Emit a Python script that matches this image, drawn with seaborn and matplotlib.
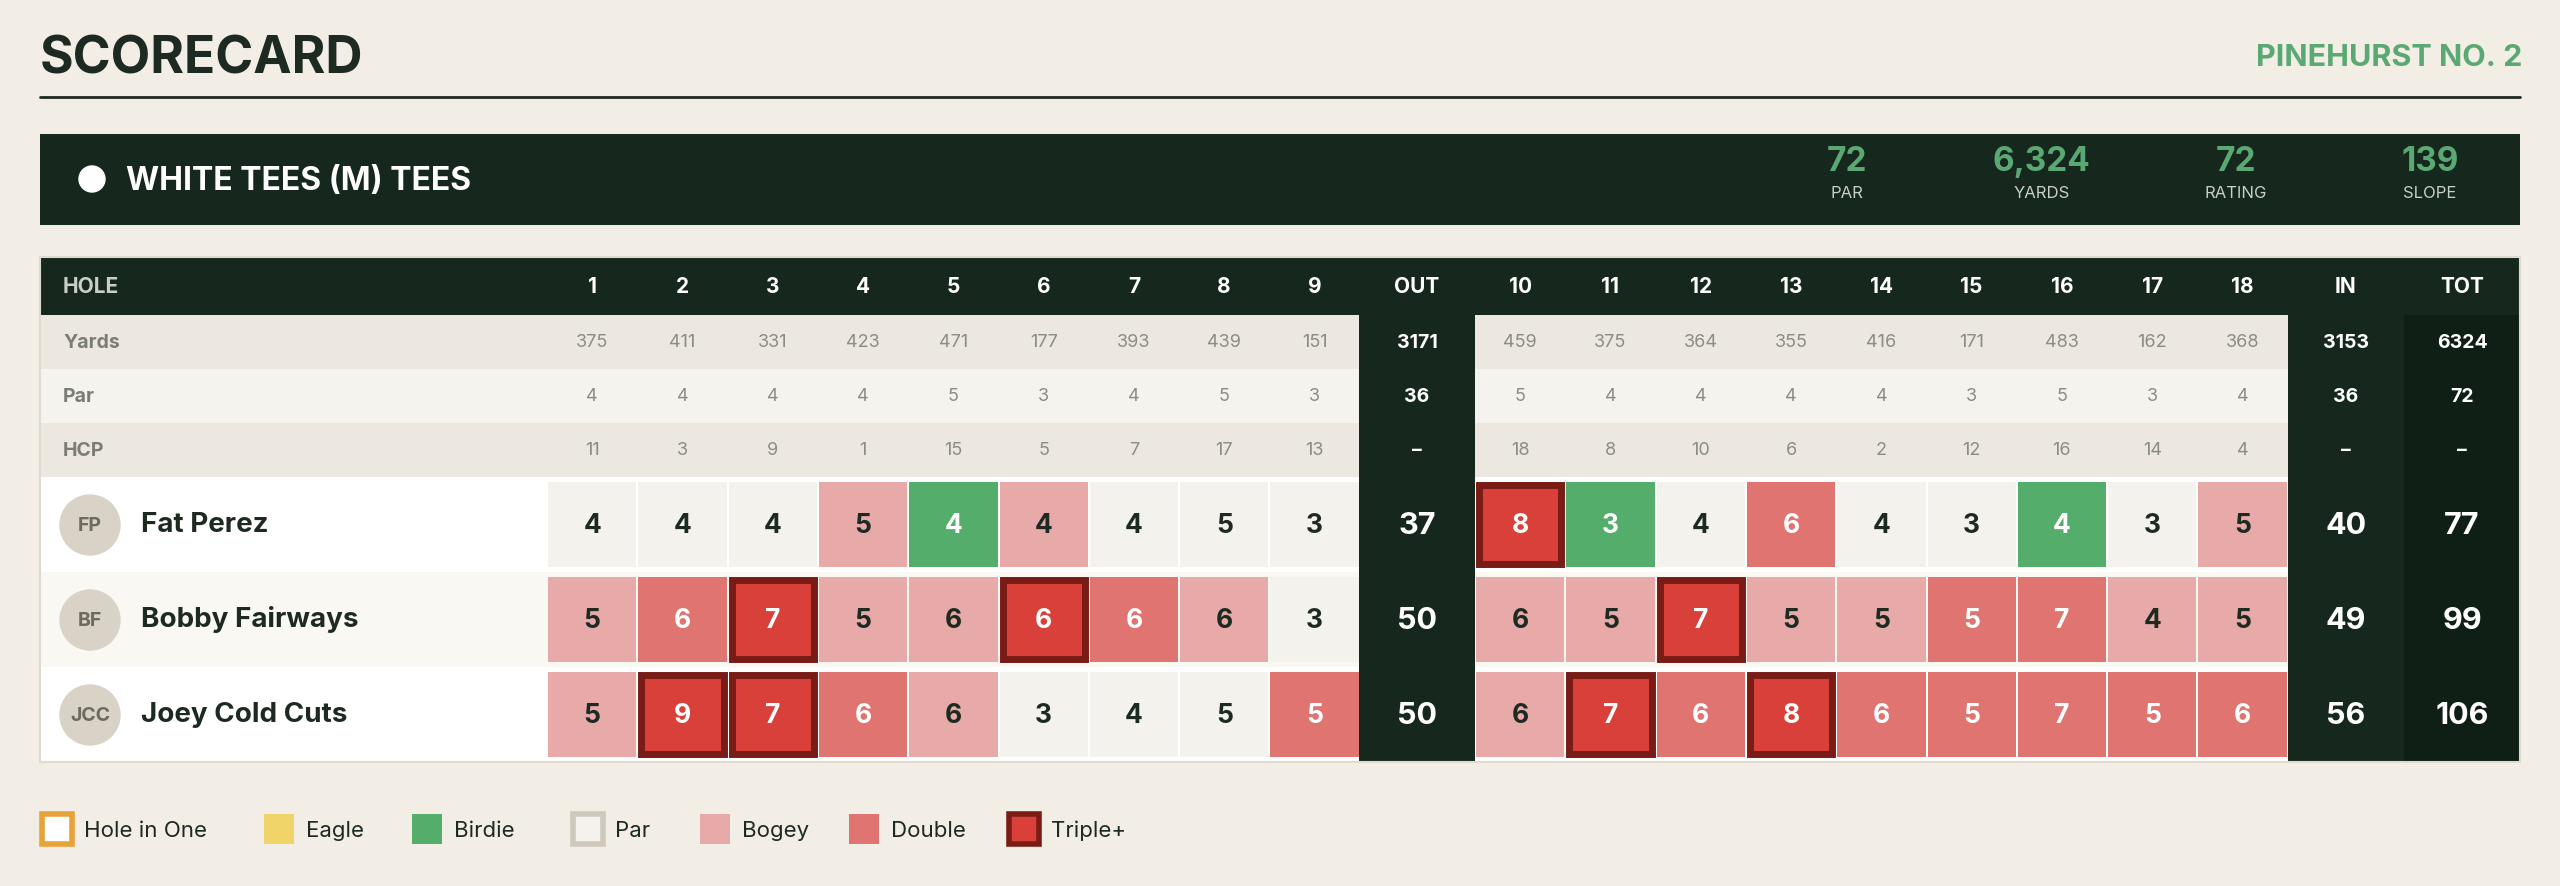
import matplotlib
matplotlib.use("Agg")
import matplotlib.pyplot as plt
from matplotlib.patches import Rectangle, Circle
import seaborn as sns

sns.set_theme(style="white")
plt.rcParams['font.family'] = ['Inter', 'DejaVu Sans']

holes = list(range(1, 19))
yards = [375, 411, 331, 423, 471, 177, 393, 439, 151, 459, 375, 364, 355, 416, 171, 483, 162, 368]
pars = [4, 4, 4, 4, 5, 3, 4, 5, 3, 5, 4, 4, 4, 4, 3, 5, 3, 4]
hcp = [11, 3, 9, 1, 15, 5, 7, 17, 13, 18, 8, 10, 6, 2, 12, 16, 14, 4]
players = ["Fat Perez", "Bobby Fairways", "Joey Cold Cuts"]
initials = ["FP", "BF", "JCC"]
scores = [
    [4, 4, 4, 5, 4, 4, 4, 5, 3, 8, 3, 4, 6, 4, 3, 4, 3, 5],
    [5, 6, 7, 5, 6, 6, 6, 6, 3, 6, 5, 7, 5, 5, 5, 7, 4, 5],
    [5, 9, 7, 6, 6, 3, 4, 5, 5, 6, 7, 6, 8, 6, 5, 7, 5, 6],
]
stat_values = ["72", "6,324", "72", "139"]
stat_labels = ["PAR", "YARDS", "RATING", "SLOPE"]
legend_labels = ["Hole in One", "Eagle", "Birdie", "Par", "Bogey", "Double", "Triple+"]

BG = "#f2ede5"; DARK = "#16281e"; DARKER = "#0f1f16"; GREEN = "#5aa872"
C = {"ace": "#ffffff", "eagle": "#f0d46a", "birdie": "#55ad6b", "par": "#f4f2ec",
     "bogey": "#e8aaa8", "double": "#e07471", "triple": "#d9403a"}

fig = plt.figure(figsize=(25.6, 8.87), dpi=100, facecolor=BG)
ax = fig.add_axes([0, 0, 1, 1])
ax.set_xlim(0, 2560); ax.set_ylim(887, 0); ax.axis("off")

def R(x, y, w, h, fc, ec="none", lw=0, z=1):
    ax.add_patch(Rectangle((x, y), w, h, facecolor=fc, edgecolor=ec, linewidth=lw, zorder=z))

def T(x, y, s, **kw):
    kw.setdefault("va", "center"); kw.setdefault("ha", "center")
    ax.text(x, y, s, **kw)

T(40, 60, "SCORECARD", ha="left", fontsize=37, fontweight="bold", color="#1d2a22")
T(2522, 58, "PINEHURST NO. 2", ha="right", fontsize=22, fontweight="bold", color=GREEN)
ax.plot([40, 2520], [98, 98], color="#1d2a22", lw=2)

R(40, 135, 2480, 91, DARK)
ax.add_patch(Circle((92, 180), 13, color="white", zorder=2))
T(126, 181, "WHITE TEES (M) TEES", ha="left", fontsize=23, fontweight="bold", color="white")
for i, (v, l) in enumerate(zip(stat_values, stat_labels)):
    x = 1847 + i * 194.3
    T(x, 162, v, fontsize=24, fontweight="bold", color=GREEN)
    T(x, 194, l, fontsize=12, color="#c8cfc9")

# columns
def colx(i):  # i: 0..17 hole index
    return 547 + i * 90.3 if i < 9 else 1475 + (i - 9) * 90.3
CW = 90.3
OUTX, INX, TOTX = 1359, 2288, 2404
SW = 116

top, hh = 258, 58
R(40, top, 2480, hh, DARK)
T(63, top + hh / 2, "HOLE", ha="left", fontsize=15, fontweight="bold", color="#c8cfc9")
for i, h in enumerate(holes):
    T(colx(i) + CW / 2, top + hh / 2, str(h), fontsize=15, fontweight="bold", color="white")
for x, s in [(OUTX, "OUT"), (INX, "IN"), (TOTX, "TOT")]:
    T(x + SW / 2, top + hh / 2, s, fontsize=15, fontweight="bold", color="white")

info = [("Yards", yards, [sum(yards[:9]), sum(yards[9:]), sum(yards)], "#ece8df"),
        ("Par", pars, [sum(pars[:9]), sum(pars[9:]), sum(pars)], "#f5f3ee"),
        ("HCP", hcp, ["–", "–", "–"], "#ece8df")]
y = 316
for name, vals, tots, bg in info:
    R(40, y, 2480, 54, bg)
    T(63, y + 27, name, ha="left", fontsize=14, fontweight="bold", color="#7a7d74")
    for i, v in enumerate(vals):
        T(colx(i) + CW / 2, y + 27, str(v), fontsize=13, color="#8a8d86")
    for x, v, fc in [(OUTX, tots[0], DARK), (INX, tots[1], DARK), (TOTX, tots[2], DARKER)]:
        R(x, y, SW, 54, fc)
        T(x + SW / 2, y + 27, str(v), fontsize=14, fontweight="bold", color="white")
    y += 54

def cat(s, p):
    if s == 1: return "ace"
    d = s - p
    return {-2: "eagle", -1: "birdie", 0: "par", 1: "bogey", 2: "double"}.get(d, "triple" if d > 2 else "eagle")

y = 478
for r, (nm, ini, sc) in enumerate(zip(players, initials, scores)):
    R(40, y, 2480, 95, "white" if r != 1 else "#faf8f3")
    ax.add_patch(Circle((90, y + 48), 30, color="#d9d3c7", zorder=2))
    T(90, y + 48, ini, fontsize=14, fontweight="bold", color="#6e6a60", zorder=3)
    T(141, y + 47, nm, ha="left", fontsize=20, fontweight="bold", color="#1d2a22")
    for i, s in enumerate(sc):
        c = cat(s, pars[i])
        x0 = colx(i) + 1; w = CW - 2; y0 = y + 5; h = 85
        if c == "triple":
            R(x0 + 3, y0 + 3, w - 6, h - 6, C[c], ec="#7a1c16", lw=5, z=2)
        else:
            R(x0, y0, w, h, C[c], z=2)
        tc = "white" if c in ("birdie", "double", "triple") else "#1d2a22"
        T(colx(i) + CW / 2, y + 48, str(s), fontsize=19, fontweight="bold", color=tc, zorder=3)
    for x, v, fc in [(OUTX, sum(sc[:9]), DARK), (INX, sum(sc[9:]), DARK), (TOTX, sum(sc), DARKER)]:
        R(x, y, SW, 95, fc, z=2)
        T(x + SW / 2, y + 48, str(v), fontsize=22, fontweight="bold", color="white", zorder=3)
    y += 95
ax.add_patch(Rectangle((40, 258), 2480, y - 258, fill=False, edgecolor="#e0dbd0", lw=1.5, zorder=4))

lx = [40, 262, 410, 571, 698, 847, 1007]
lstyle = [("#ffffff", "#e8a23a", 4), (C["eagle"], "none", 0), (C["birdie"], "none", 0),
          ("#f4f2ec", "#cfc9bd", 4), (C["bogey"], "none", 0), (C["double"], "none", 0),
          (C["triple"], "#7a1c16", 4)]
for x, lab, (fc, ec, lw) in zip(lx, legend_labels, lstyle):
    ax.add_patch(Rectangle((x + 2, 815), 30, 30, facecolor=fc, edgecolor=ec, linewidth=lw, zorder=2))
    T(x + 44, 831, lab, ha="left", fontsize=16, color="#1d2a22")

fig.savefig("out.png", dpi=100, facecolor=BG)
